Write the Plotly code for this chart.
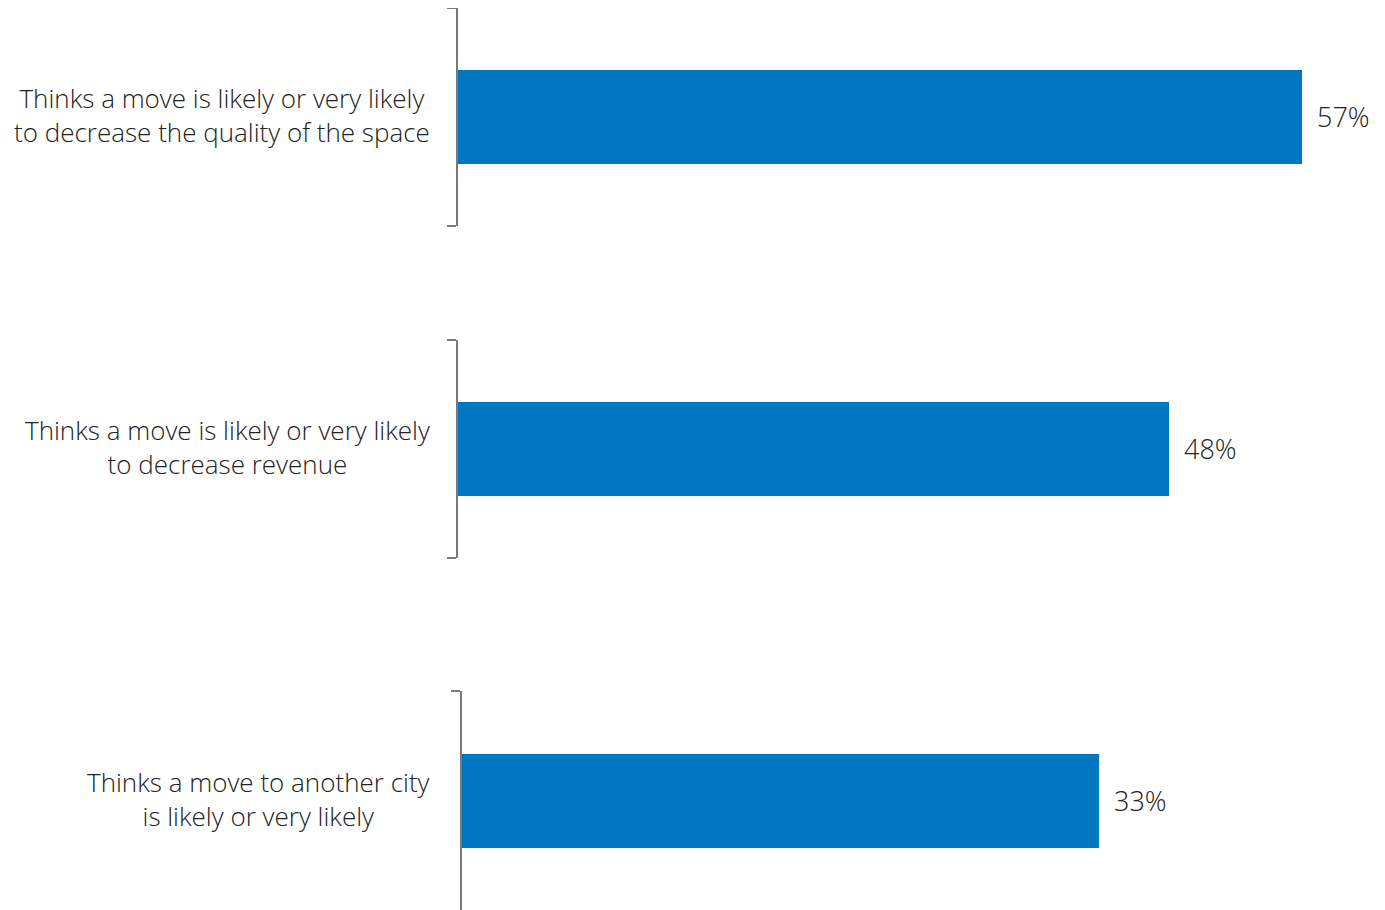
import plotly.graph_objects as go

categories = [
    "Thinks a move is likely or very likely<br>to decrease the quality of the space",
    "Thinks a move is likely or very likely<br>to decrease revenue",
    "Thinks a move to another city<br>is likely or very likely",
]
values = [57, 48, 33]
value_labels = ["57%", "48%", "33%"]

W, H = 1385, 910
OFF = 8  # page body margin
BAR = "#0077C0"
AXIS = "#7a7a7a"
TEXT = "#222222"
FONT = "Open Sans"

def fx(p):
    return (p - OFF) / W

def fy(p):
    return min(1.0, max(0.0, 1 - (p - OFF) / H))

# per-subplot layout (screen pixel based)
X12, X3 = 458, 462
y_domains = [[fy(226), fy(7)], [fy(558), fy(340)], [fy(911), fy(691)]]
x_domains = [[fx(X12), 1.0], [fx(X12), 1.0], [fx(X3), 1.0]]
sc12 = (1302 - X12) / 57
sc3 = (1099 - X3) / 33
x_ranges = [[0, (W - (X12 - OFF)) / sc12], [0, (W - (X12 - OFF)) / sc12], [0, (W - (X3 - OFF)) / sc3]]

fig = go.Figure()
for i, (cat, v, lab) in enumerate(zip(categories, values, value_labels)):
    n = "" if i == 0 else str(i + 1)
    fig.add_trace(go.Bar(
        x=[v], y=[0], orientation="h", width=0.43,
        marker=dict(color=BAR, line=dict(width=0)),
        xaxis="x" + n, yaxis="y" + n, showlegend=False, hoverinfo="skip",
    ))
    fig.layout["xaxis" + n] = dict(
        domain=x_domains[i], range=x_ranges[i], visible=False,
        anchor="y" + n, fixedrange=True,
    )
    fig.layout["yaxis" + n] = dict(
        domain=y_domains[i], range=[-0.5, 0.5], anchor="x" + n,
        showline=True, linecolor=AXIS, linewidth=2,
        ticks="outside", tickvals=[-0.5, 0.5], ticklen=9, tickwidth=2,
        tickcolor=AXIS, showticklabels=False, showgrid=False, zeroline=False,
        fixedrange=True,
    )
    fig.add_annotation(
        x=v, y=0, xref="x" + n, yref="y" + n, text=lab, showarrow=False,
        xanchor="left", yanchor="middle", xshift=13, yshift=1,
        font=dict(family=FONT, size=27, color=TEXT, weight=300),
    )
    fig.add_annotation(
        x=fx(432), y=0, xref="paper", yref="y" + n, text=cat, showarrow=False,
        xanchor="right", yanchor="middle", align="center", yshift=2,
        font=dict(family=FONT, size=26, color=TEXT, weight=300),
    )

fig.update_layout(
    width=W, height=H, margin=dict(l=0, r=0, t=0, b=0),
    paper_bgcolor="white", plot_bgcolor="white",
    font=dict(family=FONT, color=TEXT),
    bargap=0,
)
fig.write_html("out.html")
